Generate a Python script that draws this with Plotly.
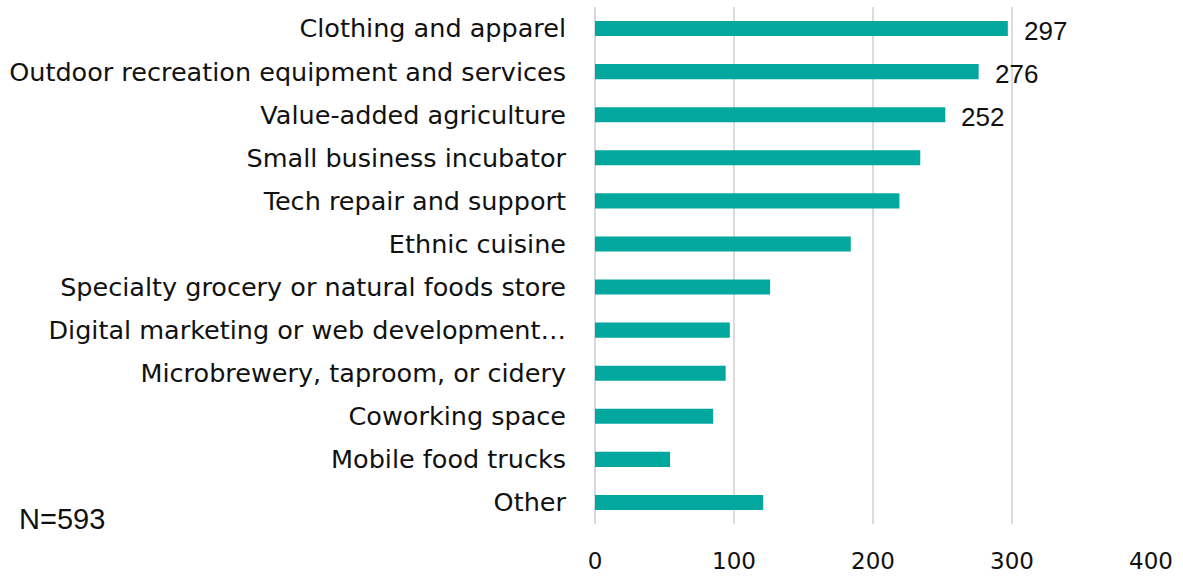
import plotly.graph_objects as go

# Business types residents would like to see, number of responses
categories = [
    "Clothing and apparel",
    "Outdoor recreation equipment and services",
    "Value-added agriculture",
    "Small business incubator",
    "Tech repair and support",
    "Ethnic cuisine",
    "Specialty grocery or natural foods store",
    "Digital marketing or web development…",
    "Microbrewery, taproom, or cidery",
    "Coworking space",
    "Mobile food trucks",
    "Other",
]
responses = [297, 276, 252, 234, 219, 184, 126, 97, 94, 85, 54, 121]
labelled_count = 3  # only the top three bars carry value labels
x_ticks = [0, 100, 200, 300, 400]
sample_note = "N=593"

BAR = "#02A89E"
INK = "#111111"
LABEL_FONT = "DejaVu Sans"
VALUE_FONT = "Liberation Sans"

fig = go.Figure(
    go.Bar(
        x=responses,
        y=categories,
        orientation="h",
        marker=dict(color=BAR, line=dict(width=0)),
        hoverinfo="x+y",
    )
)

for cat, val in zip(categories[:labelled_count], responses[:labelled_count]):
    fig.add_annotation(
        x=val, y=cat, text=str(val), showarrow=False,
        xanchor="left", xshift=14, yshift=-2,
        font=dict(family=VALUE_FONT, size=26, color=INK),
    )

fig.add_annotation(
    xref="paper", yref="paper", x=-1.039, y=0.01,
    text=sample_note, showarrow=False, xanchor="left", yanchor="middle",
    font=dict(family=VALUE_FONT, size=29, color=INK),
)

fig.update_layout(
    width=1183, height=576,
    margin=dict(l=595, r=32, t=7, b=52, autoexpand=False),
    paper_bgcolor="white", plot_bgcolor="white",
    bargap=0.65,
    showlegend=False,
    font=dict(family=LABEL_FONT, size=25, color=INK),
)
fig.update_xaxes(
    range=[0, 400], tickvals=x_ticks, automargin=False,
    showgrid=True, gridcolor="#DCDCDC", gridwidth=2,
    zeroline=True, zerolinecolor="#D6D9E0", zerolinewidth=2,
    showline=False, ticks="", ticklabelstandoff=21,
    tickfont=dict(family=LABEL_FONT, size=23, color=INK),
)
fig.update_yaxes(
    autorange="reversed", automargin=False,
    showgrid=False, showline=False, ticks="",
    ticklabelstandoff=28,
    tickfont=dict(family=LABEL_FONT, size=25.5, color=INK),
)

fig.write_html("out.html")
